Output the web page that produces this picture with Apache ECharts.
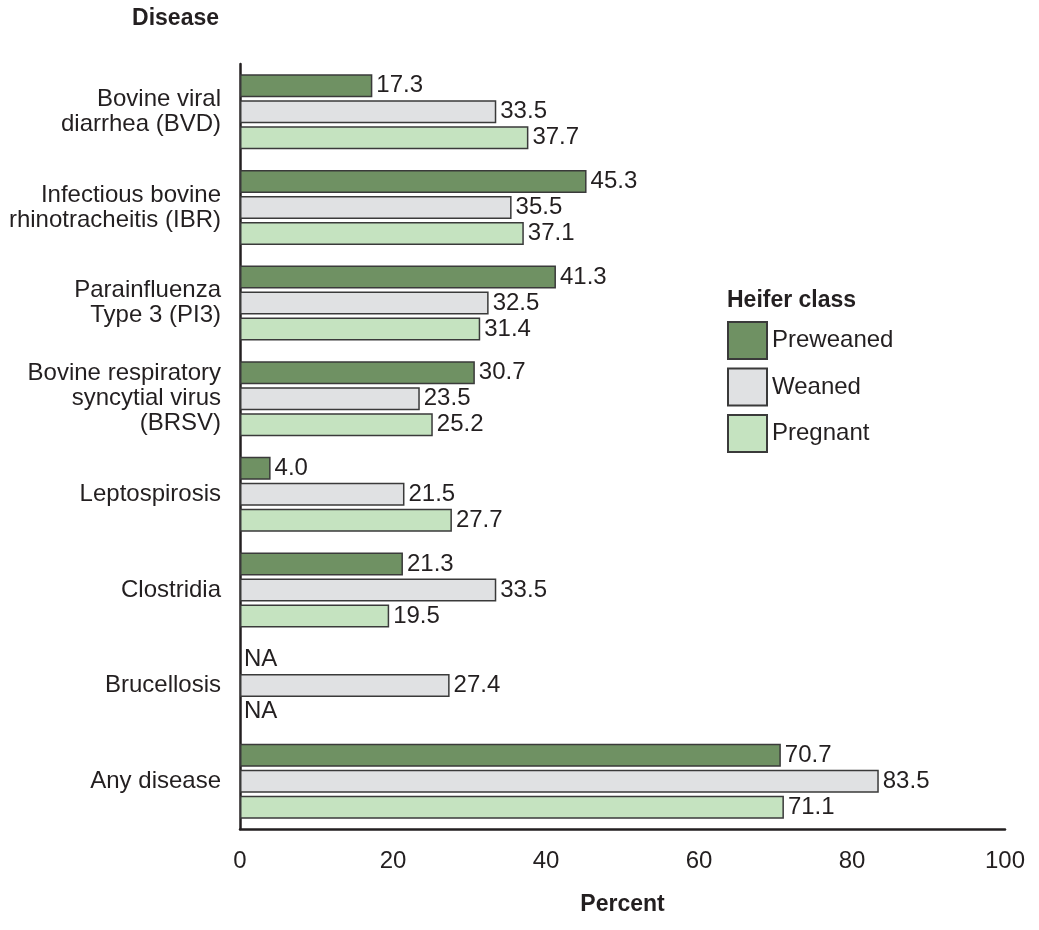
<!DOCTYPE html>
<html>
<head>
<meta charset="utf-8">
<script src="https://cdn.jsdelivr.net/npm/echarts@6/dist/echarts.min.js"></script>
<style>html,body{margin:0;padding:0;background:#fff;}#c{width:1039px;height:930px;}</style>
</head>
<body>
<div id="c"></div>
<script>
const categories = [
  'Bovine viral\ndiarrhea (BVD)',
  'Infectious bovine\nrhinotracheitis (IBR)',
  'Parainfluenza\nType 3 (PI3)',
  'Bovine respiratory\nsyncytial virus\n(BRSV)',
  'Leptospirosis',
  'Clostridia',
  'Brucellosis',
  'Any disease'
];
const preweaned = [17.3, 45.3, 41.3, 30.7, 4.0, 21.3, null, 70.7];
const weaned    = [33.5, 35.5, 32.5, 23.5, 21.5, 33.5, 27.4, 83.5];
const pregnant  = [37.7, 37.1, 31.4, 25.2, 27.7, 19.5, null, 71.1];
const seriesNames = ['Preweaned', 'Weaned', 'Pregnant'];
const xTicks = [0, 20, 40, 60, 80, 100];

const FONT = "'Liberation Sans', Arial, Helvetica, sans-serif";
const TXT = '#231f20';
const colors = ['#6f9163', '#e0e1e3', '#c5e3c0'];

function toData(arr) {
  return arr.map(v => v === null
    ? { value: 0, itemStyle: { color: 'transparent', borderWidth: 0 }, label: { formatter: 'NA' } }
    : v);
}

function mkSeries(name, arr, i) {
  return {
    name: name,
    type: 'bar',
    data: toData(arr),
    barWidth: 23,
    barGap: '13%',
    itemStyle: { color: colors[i], borderColor: '#3a3a3a', borderWidth: 1.5 },
    label: {
      show: true, position: 'right', distance: 4,
      fontFamily: FONT, fontSize: 24, color: TXT,
      formatter: p => Number(p.value).toFixed(1)
    },
    emphasis: { disabled: true }
  };
}

const chart = echarts.init(document.getElementById('c'), null, { renderer: 'canvas' });
chart.setOption({
  animation: false,
  backgroundColor: '#fff',
  textStyle: { fontFamily: FONT, color: TXT },
  grid: { left: 240, right: 34, top: 64, bottom: 101, containLabel: false },
  xAxis: {
    type: 'value', min: 0, max: 100, interval: 20,
    axisLine: { show: true, lineStyle: { color: TXT, width: 2.5 } },
    axisTick: { show: false },
    splitLine: { show: false },
    axisLabel: { fontFamily: FONT, fontSize: 24, color: TXT, margin: 20,
      formatter: v => xTicks.indexOf(v) >= 0 ? String(v) : '' },
    name: 'Percent', nameLocation: 'middle', nameGap: 64,
    nameTextStyle: { fontFamily: FONT, fontSize: 23, fontWeight: 'bold', color: TXT, verticalAlign: 'top' }
  },
  yAxis: {
    type: 'category', data: categories, inverse: true,
    axisLine: { show: true, lineStyle: { color: TXT, width: 2.5 } },
    axisTick: { show: false },
    axisLabel: { fontFamily: FONT, fontSize: 24, lineHeight: 25, color: TXT, margin: 19, align: 'right' }
  },
  legend: {
    orient: 'vertical', left: 727, top: 321, padding: 0,
    itemWidth: 39, itemHeight: 37, itemGap: 7.5,
    icon: 'rect',
    textStyle: { fontFamily: FONT, fontSize: 24, color: TXT },
    data: seriesNames,
    selectedMode: false
  },
  graphic: [
    { type: 'text', x: 219, y: 19, style: { text: 'Disease', font: "bold 23px 'Liberation Sans', Arial", fill: TXT, textAlign: 'right', textVerticalAlign: 'middle' } },
    { type: 'text', x: 727, y: 301, style: { text: 'Heifer class', font: "bold 23px 'Liberation Sans', Arial", fill: TXT, textAlign: 'left', textVerticalAlign: 'middle' } }
  ],
  series: [
    mkSeries(seriesNames[0], preweaned, 0),
    mkSeries(seriesNames[1], weaned, 1),
    mkSeries(seriesNames[2], pregnant, 2)
  ]
});
</script>
</body>
</html>
